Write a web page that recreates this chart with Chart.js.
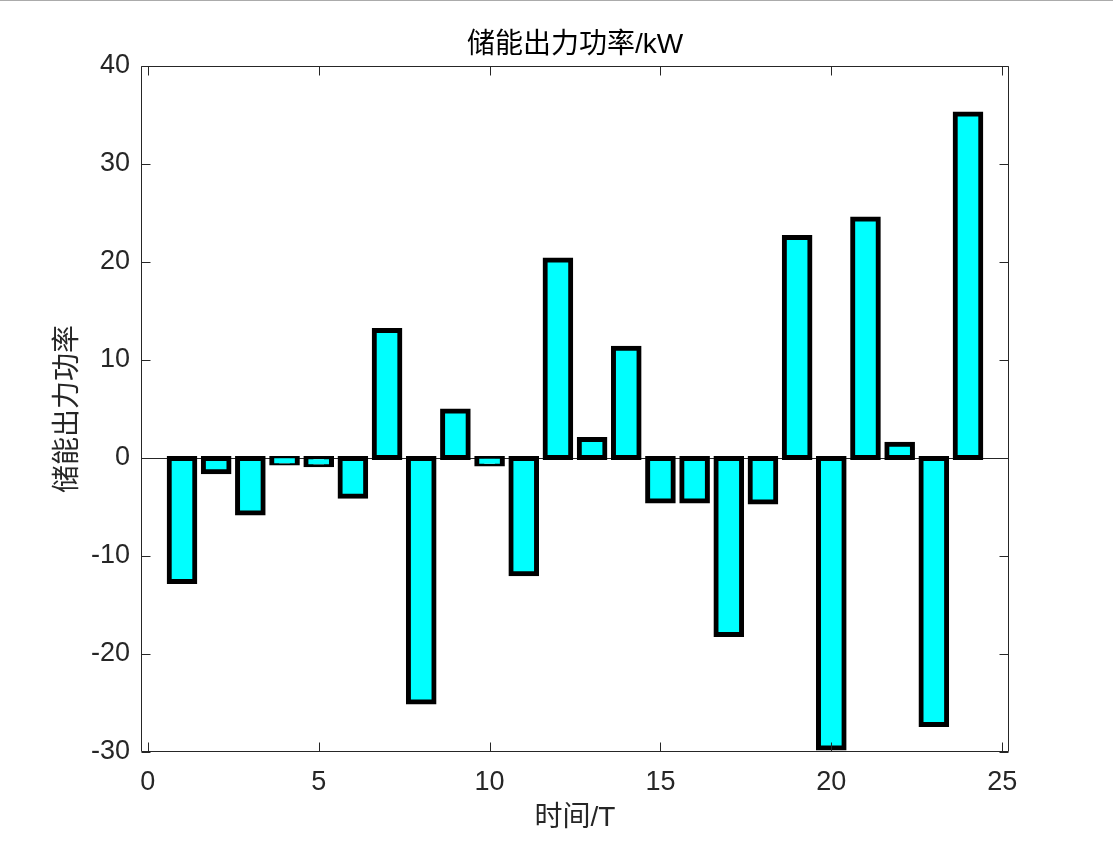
<!DOCTYPE html>
<html><head><meta charset="utf-8">
<script src="https://cdn.jsdelivr.net/npm/chart.js@4/dist/chart.umd.min.js"></script>
<style>
html,body{margin:0;padding:0;background:#fff;overflow:hidden}
#wrap{position:relative;width:1113px;height:841px}
#topline{position:absolute;left:0;top:0;width:1113px;height:1px;background:#ababab}
</style>
</head><body>
<div id="wrap"><canvas id="c" width="1113" height="841"></canvas><div id="topline"></div></div>
<script>
// ---- data ----
const categories = [1,2,3,4,5,6,7,8,9,10,11,12,13,14,15,16,17,18,19,20,21,22,23,24];
const values = [-12.6,-1.4,-5.6,-0.5,-0.7,-3.9,13.0,-24.9,4.8,-0.6,-11.8,20.2,1.9,11.2,-4.4,-4.4,-18.0,-4.5,22.5,-29.6,24.4,1.4,-27.2,35.1];
const xTicks = [0,5,10,15,20,25];
const yTicks = [-30,-20,-10,0,10,20,30,40];
const chartTitle = '储能出力功率/kW';
const xTitle = '时间/T';
const yTitle = '储能出力功率';

const FONT = '"Liberation Sans", Arial, "Noto Sans CJK SC", sans-serif';
const AXIS = '#262626';

const framePlugin = {
  id: 'frame',
  afterDraw(chart) {
    const {ctx, chartArea: a, scales: {x, y}} = chart;
    const L = Math.round(a.left) + 0.5, R = Math.round(a.right) - 0.5;
    const T = Math.round(a.top) + 0.5, B = Math.round(a.bottom) - 0.5;
    const len = 9;
    ctx.save();
    ctx.strokeStyle = AXIS;
    ctx.lineWidth = 1;
    ctx.beginPath();
    ctx.rect(L, T, R - L, B - T);
    xTicks.forEach(v => {
      const p = Math.round(x.getPixelForValue(v)) + 0.5;
      ctx.moveTo(p, B); ctx.lineTo(p, B - len);
      ctx.moveTo(p, T); ctx.lineTo(p, T + len);
    });
    yTicks.forEach(v => {
      const p = Math.round(y.getPixelForValue(v)) + 0.5;
      ctx.moveTo(L, p); ctx.lineTo(L + len, p);
      ctx.moveTo(R, p); ctx.lineTo(R - len, p);
    });
    ctx.stroke();
    ctx.restore();
  }
};

new Chart(document.getElementById('c'), {
  type: 'bar',
  data: {
    datasets: [{
      data: categories.map((c, i) => ({x: c, y: values[i]})),
      backgroundColor: '#00ffff',
      borderColor: '#000000',
      borderWidth: 5,
      borderSkipped: false,
      inflateAmount: 2.5,
      barPercentage: 0.75,
      categoryPercentage: 1.0
    }]
  },
  options: {
    responsive: false,
    animation: false,
    layout: {padding: {left: 0, right: 104, top: 0, bottom: 0}},
    plugins: {
      legend: {display: false},
      tooltip: {enabled: false},
      title: {
        display: true,
        text: chartTitle,
        fullSize: false,
        color: '#000',
        font: {family: FONT, size: 28, weight: 'normal', lineHeight: 1.2},
        padding: {top: 28, bottom: 4.4}
      }
    },
    scales: {
      x: {
        type: 'linear',
        offset: false,
        min: -0.2,
        max: 25.2,
        afterBuildTicks: s => { s.ticks = xTicks.map(v => ({value: v})); },
        afterFit: s => { s.height = 89; },
        grid: {display: false, drawTicks: false, offset: false},
        border: {display: false},
        ticks: {color: AXIS, font: {family: FONT, size: 27}, padding: 14, maxRotation: 0, autoSkip: false},
        title: {display: true, text: xTitle, color: AXIS, font: {family: FONT, size: 28, lineHeight: 1.2}, padding: {top: 0, bottom: 6}}
      },
      y: {
        type: 'linear',
        min: -30,
        max: 40,
        afterBuildTicks: s => { s.ticks = yTicks.map(v => ({value: v})); },
        afterFit: s => { s.width = 141; },
        grid: {
          drawTicks: false,
          color: c => (c.tick && c.tick.value === 0) ? AXIS : 'rgba(0,0,0,0)',
          lineWidth: 1
        },
        border: {display: false},
        ticks: {color: AXIS, font: {family: FONT, size: 27}, padding: 11, autoSkip: false},
        title: {display: true, text: yTitle, color: AXIS, font: {family: FONT, size: 28, lineHeight: 1.2}, padding: {top: 51, bottom: 0}}
      }
    }
  },
  plugins: [framePlugin]
});
</script>
</body></html>
